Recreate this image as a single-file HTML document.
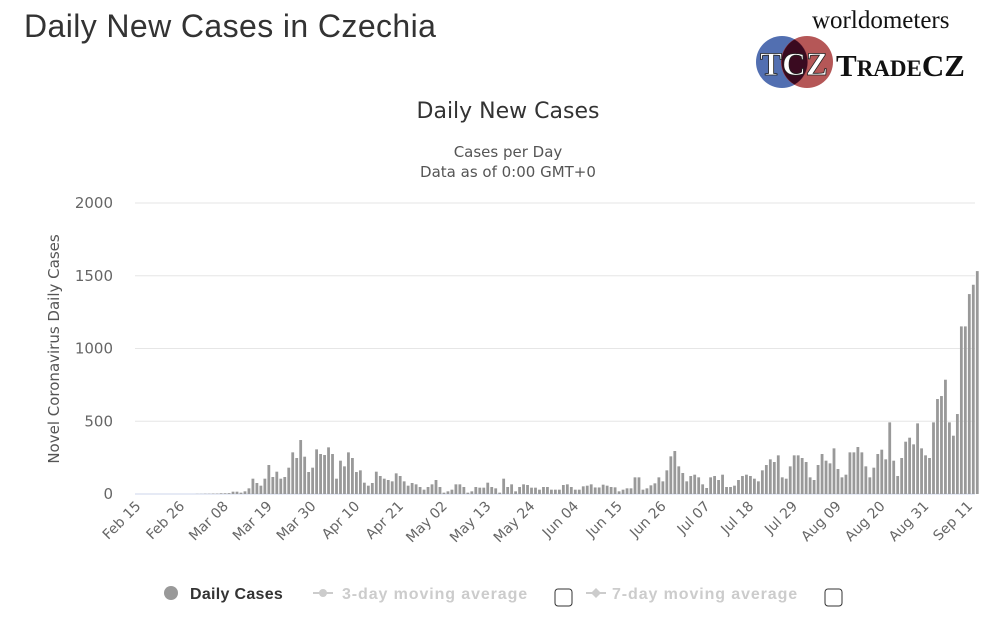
<!DOCTYPE html>
<html><head><meta charset="utf-8"><style>
body{margin:0;background:#fff;width:985px;height:616px;overflow:hidden;font-family:"Liberation Sans",sans-serif}
</style></head><body>
<svg id="s" width="985" height="616" xmlns="http://www.w3.org/2000/svg" font-family="DejaVu Sans, sans-serif">
<text x="24" y="37" font-size="32" letter-spacing="0.4" font-family="Liberation Sans, sans-serif" fill="#333">Daily New Cases in Czechia</text>
<text x="812" y="28" font-size="25" font-family="Liberation Serif, serif" fill="#111">worldometers</text>
<circle cx="782" cy="62" r="26" fill="#3f5fa8" opacity="0.9"/>
<circle cx="807" cy="62" r="26" fill="#a83a3a" opacity="0.85"/>
<path d="M794.5 39.5 A26 26 0 0 1 794.5 84.5 A26 26 0 0 1 794.5 39.5Z" fill="#3a0a20"/>
<text x="794" y="75" text-anchor="middle" font-size="33" font-weight="bold" font-family="Liberation Serif, serif" fill="#fff" stroke="#222" stroke-width="0.8">TCZ</text>
<text x="836" y="76" font-size="31" font-weight="bold" font-family="Liberation Serif, serif" fill="#111">T<tspan font-size="23">RADE</tspan>CZ</text>
<text x="508" y="118" text-anchor="middle" font-size="22" fill="#333">Daily New Cases</text>
<text x="508" y="157" text-anchor="middle" font-size="15" fill="#555">Cases per Day</text>
<text x="508" y="177" text-anchor="middle" font-size="15" fill="#555">Data as of 0:00 GMT+0</text>
<g id="grid"></g>
<g id="bars" fill="#999"></g>
<g id="xl" font-size="14" fill="#666"></g>
<text transform="translate(59,349) rotate(-90)" text-anchor="middle" font-size="15" fill="#555">Novel Coronavirus Daily Cases</text>
<g font-size="16" font-family="Liberation Sans, sans-serif">
<circle cx="171" cy="593" r="7" fill="#999"/>
<text x="190" y="599" font-weight="bold" fill="#333" letter-spacing="0.3">Daily Cases</text>
<line x1="313" y1="593" x2="333" y2="593" stroke="#ccc" stroke-width="2"/><circle cx="323" cy="593" r="4" fill="#ccc"/>
<text x="342" y="599" font-weight="bold" fill="#ccc" letter-spacing="0.9">3-day moving average</text>
<rect x="555" y="589" width="17" height="17" rx="3" fill="#fff" stroke="#333"/>
<line x1="586" y1="593" x2="606" y2="593" stroke="#ccc" stroke-width="2"/><path d="M596 588 L601 593 L596 598 L591 593Z" fill="#ccc"/>
<text x="612" y="599" font-weight="bold" fill="#ccc" letter-spacing="0.9">7-day moving average</text>
<rect x="825" y="589" width="17" height="17" rx="3" fill="#fff" stroke="#333"/>
</g>
</svg>
<script>
var NS="http://www.w3.org/2000/svg";
function el(t,a,p,txt){var e=document.createElementNS(NS,t);for(var k in a)e.setAttribute(k,a[k]);if(txt)e.textContent=txt;document.getElementById(p).appendChild(e);return e;}
var y0=494,ppc=291/2000;
for(var i=0;i<=4;i++){var y=y0-i*500*ppc;
el('line',{x1:135,x2:975,y1:y,y2:y,stroke:i?'#e6e6e6':'#ccd6eb','stroke-width':1},'grid');
el('text',{x:113,y:y+5,'text-anchor':'end','font-size':15,fill:'#666'},'grid',String(i*500));}
var vals=[];for(var d=0;d<15;d++)vals.push(0);
var early=[1,1,2,2,3,3,5,5,6];vals=vals.concat(early);
var h2=[428,428,431,427,418,389,402,410,389,348,384,368,389,384,356,310,327,273,323,369,356,301,315,318,295,315,389,335,352,310,327,369,364,401,410,402,368,381,389,393,397,373,381,397,410,402,406,414,422,414,406,393,414,431,427,422,406,406,414,431,427,414,416,416,401,414,418,431,389,414,406,427,414,406,408,416,416,422,414,414,422,422,422,408,406,414,422,422,412,410,406];
h2.forEach(function(h){vals.push((435-h)*2.29);});
while(vals.length<117)vals.push(45);
var h1=[707,710,714,715,727,722,718,718,685,685,722,718,709,703,685,697,664,622,606,652,672,697,681,677,685,706,717,685,681,693,677,714,714,710,693,681,677,681,689,697,664,648,631,639,619,685,689,652,619,619,627,639,685,693,648,615,635,643,598,660,685,677,610,610,594,610,652,685,656,615,602,631,520,635,681,627,578,566,586,523,598,619,627,520,450,441,392,520,560,495,232,232,135,107,66];
h1.forEach(function(h){vals.push((735-h)*2.29);});
var x0=137.5,pd=3.98;
vals.forEach(function(v,i){if(v<=0)return;var h=v*ppc;el('rect',{x:x0+i*pd-1.4,y:y0-h,width:2.8,height:h},'bars');});
var labs=["Feb 15","Feb 26","Mar 08","Mar 19","Mar 30","Apr 10","Apr 21","May 02","May 13","May 24","Jun 04","Jun 15","Jun 26","Jul 07","Jul 18","Jul 29","Aug 09","Aug 20","Aug 31","Sep 11"];
labs.forEach(function(l,i){var x=x0+i*11*pd;el('text',{transform:'translate('+(x+4)+',507) rotate(-45)','text-anchor':'end'},'xl',l);});
</script>
</body></html>
